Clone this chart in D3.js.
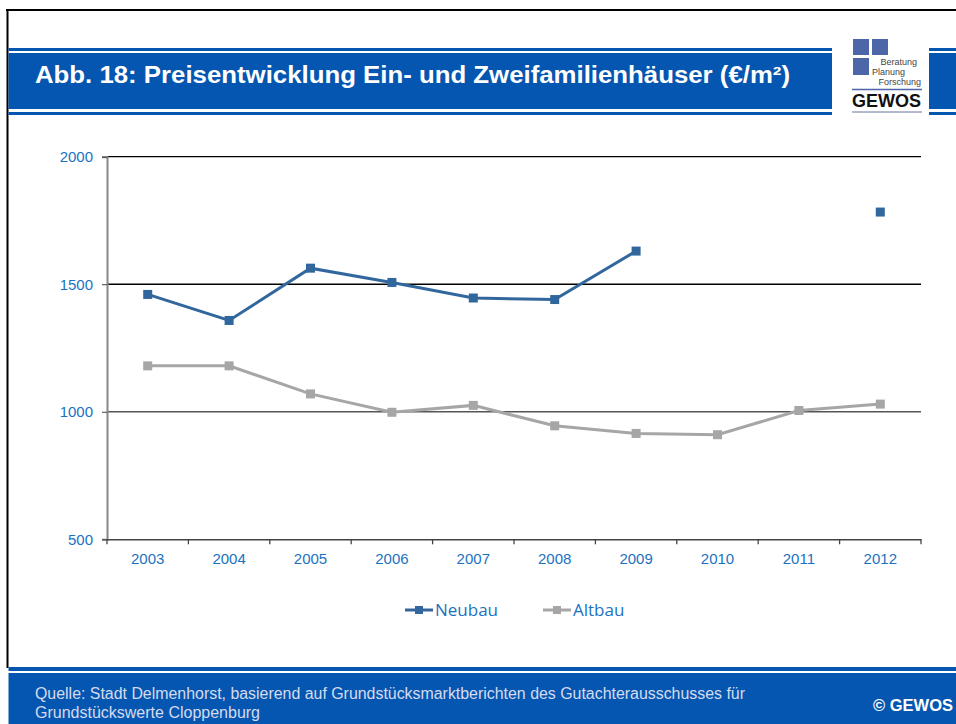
<!DOCTYPE html>
<html>
<head>
<meta charset="utf-8">
<script src="https://cdn.jsdelivr.net/npm/d3@7"></script>
<style>
  body { margin: 0; background: #fff; }
  text { font-family: Arial, "Liberation Sans", sans-serif; }
</style>
</head>
<body>
<svg id="chart" width="956" height="724"></svg>
<script>
// data
var years = ["2003", "2004", "2005", "2006", "2007", "2008", "2009", "2010", "2011", "2012"];
var neubau = [1460, 1358, 1563, 1507, 1446, 1440, 1630, null, null, 1783];
var altbau = [1180, 1180, 1070, 998, 1025, 945, 915, 910, 1005, 1030];
var yTicks = [500, 1000, 1500, 2000];
var seriesNames = ["Neubau", "Altbau"];
var seriesColors = ["#32679e", "#a6a6a6"];

var blue = "#0556b0", labelBlue = "#1b72bf";
var svg = d3.select("#chart");

svg.append("rect").attr("width", 956).attr("height", 724).attr("fill", "#fff");

// frame
svg.append("line").attr("x1", 6).attr("x2", 956).attr("y1", 10).attr("y2", 10)
  .attr("stroke", "#000").attr("stroke-width", 2);
svg.append("line").attr("x1", 7.5).attr("x2", 7.5).attr("y1", 9).attr("y2", 668)
  .attr("stroke", "#000").attr("stroke-width", 2);

// header band
svg.append("rect").attr("x", 8.5).attr("y", 48).attr("width", 948).attr("height", 3).attr("fill", blue);
svg.append("rect").attr("x", 8.5).attr("y", 53).attr("width", 948).attr("height", 56).attr("fill", blue);
svg.append("rect").attr("x", 8.5).attr("y", 112).attr("width", 948).attr("height", 3).attr("fill", blue);
svg.append("text").attr("x", 35).attr("y", 83)
  .attr("fill", "#fff").attr("font-weight", "bold").attr("font-size", 23)
  .attr("textLength", 755).attr("lengthAdjust", "spacingAndGlyphs")
  .text("Abb. 18: Preisentwicklung Ein- und Zweifamilienhäuser (€/m²)");

// logo
svg.append("rect").attr("x", 832).attr("y", 30).attr("width", 97).attr("height", 90).attr("fill", "#fff");
var sq = "#4c66a8";
svg.append("rect").attr("x", 853).attr("y", 39).attr("width", 16).attr("height", 16).attr("fill", sq);
svg.append("rect").attr("x", 872).attr("y", 39).attr("width", 16).attr("height", 16).attr("fill", sq);
svg.append("rect").attr("x", 853).attr("y", 58).attr("width", 16).attr("height", 17).attr("fill", sq);
var logoText = [["Beratung", 917, 65, "end"], ["Planung", 872, 75, "start"], ["Forschung", 921, 85, "end"]];
logoText.forEach(function(t) {
  svg.append("text").attr("x", t[1]).attr("y", t[2]).attr("text-anchor", t[3])
    .attr("font-size", 9).attr("fill", "#444").text(t[0]);
});
svg.append("line").attr("x1", 852).attr("x2", 922).attr("y1", 89.5).attr("y2", 89.5)
  .attr("stroke", "#4c66a8").attr("stroke-width", 1.5);
svg.append("text").attr("x", 852).attr("y", 107).attr("font-size", 18).attr("font-weight", "bold")
  .attr("fill", "#111").text("GEWOS");
svg.append("line").attr("x1", 852).attr("x2", 922).attr("y1", 112).attr("y2", 112)
  .attr("stroke", "#9aa3c0").attr("stroke-width", 1.5);

// footer
svg.append("rect").attr("x", 8.5).attr("y", 667).attr("width", 948).attr("height", 4).attr("fill", blue);
svg.append("rect").attr("x", 8.5).attr("y", 673).attr("width", 948).attr("height", 51).attr("fill", blue);
svg.append("text").attr("x", 35).attr("y", 699).attr("font-size", 16).attr("fill", "#d6dbee")
  .attr("textLength", 710).attr("lengthAdjust", "spacingAndGlyphs")
  .text("Quelle: Stadt Delmenhorst, basierend auf Grundstücksmarktberichten des Gutachterausschusses für");
svg.append("text").attr("x", 35).attr("y", 718).attr("font-size", 16).attr("fill", "#d6dbee")
  .text("Grundstückswerte Cloppenburg");
svg.append("text").attr("x", 953).attr("y", 711).attr("text-anchor", "end")
  .attr("font-size", 16.5).attr("font-weight", "bold").attr("fill", "#fff").text("© GEWOS");

// scales
var x = d3.scaleBand().domain(years).range([107, 921]);
var y = d3.scaleLinear().domain([500, 2000]).range([539.3, 156.7]);

// gridlines
svg.append("g").selectAll("line").data(yTicks.filter(function(d) { return d > 500; }))
  .enter().append("line")
  .attr("x1", 107).attr("x2", 921)
  .attr("y1", function(d) { return y(d); }).attr("y2", function(d) { return y(d); })
  .attr("stroke", function(d) { return d === 1000 ? "#555" : "#000"; })
  .attr("stroke-width", 1.3);

// y axis
var yAxis = svg.append("g").attr("transform", "translate(107,0)")
  .call(d3.axisLeft(y).tickValues(yTicks).tickSize(5).tickPadding(9).tickFormat(d3.format("d")));
yAxis.select(".domain").attr("stroke", "#888").attr("stroke-width", 2);
yAxis.selectAll(".tick line").attr("stroke", "#444");
yAxis.selectAll("text").attr("font-size", 15).attr("fill", labelBlue)
  .style("font-family", "Arial, 'Liberation Sans', sans-serif");

// x axis
var xAxis = svg.append("g").attr("transform", "translate(0,539.3)")
  .call(d3.axisBottom(x).tickSize(0).tickPadding(14));
xAxis.select(".domain").attr("stroke", "#444").attr("stroke-width", 1.5);
xAxis.selectAll("text").attr("font-size", 15).attr("fill", labelBlue)
  .style("font-family", "Arial, 'Liberation Sans', sans-serif");
var bounds = years.map(function(d) { return x(d); }).concat([x.range()[1]]);
xAxis.selectAll(".bound").data(bounds).enter().append("line")
  .attr("x1", function(d) { return d; }).attr("x2", function(d) { return d; })
  .attr("y1", 0).attr("y2", 5).attr("stroke", "#444").attr("stroke-width", 1.3);

// series
var series = [neubau, altbau];
var line = d3.line()
  .defined(function(d) { return d != null; })
  .x(function(d, i) { return x(years[i]) + x.bandwidth() / 2; })
  .y(function(d) { return y(d); });

[1, 0].forEach(function(s) {
  svg.append("path").datum(series[s])
    .attr("d", line).attr("fill", "none")
    .attr("stroke", seriesColors[s]).attr("stroke-width", 3);
  svg.append("g").selectAll("rect")
    .data(series[s].map(function(v, i) { return { v: v, i: i }; }).filter(function(d) { return d.v != null; }))
    .enter().append("rect")
    .attr("x", function(d) { return x(years[d.i]) + x.bandwidth() / 2 - 4.5; })
    .attr("y", function(d) { return y(d.v) - 4.5; })
    .attr("width", 9).attr("height", 9)
    .attr("fill", seriesColors[s]);
});

// legend
var legendX = [405, 543];
var lg = svg.append("g").selectAll("g").data(seriesNames).enter().append("g")
  .attr("transform", function(d, i) { return "translate(" + legendX[i] + ",610)"; });
lg.append("line").attr("x1", 0).attr("x2", 28).attr("y1", 0).attr("y2", 0)
  .attr("stroke", function(d, i) { return seriesColors[i]; }).attr("stroke-width", 3);
lg.append("rect").attr("x", 10).attr("y", -4).attr("width", 8).attr("height", 8)
  .attr("fill", function(d, i) { return seriesColors[i]; });
lg.append("text").attr("x", 30).attr("y", 6).attr("font-size", 17).attr("fill", labelBlue)
  .style("font-family", "'Open Sans', sans-serif")
  .text(function(d) { return d; });
</script>
</body>
</html>
